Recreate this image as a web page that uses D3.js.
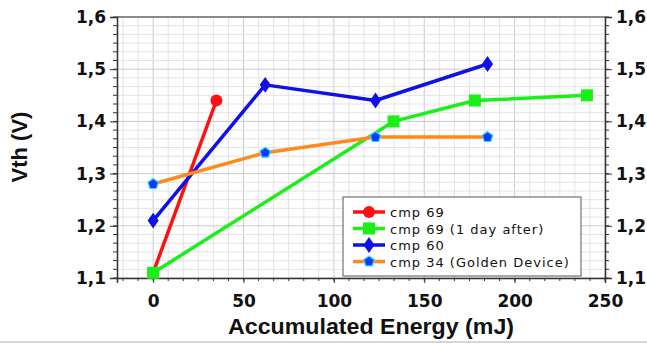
<!DOCTYPE html>
<html>
<head>
<meta charset="utf-8">
<script src="https://cdn.jsdelivr.net/npm/d3@7"></script>
<style>
  body { margin: 0; background: #fff; }
  text { font-family: "DejaVu Sans", sans-serif; }
</style>
</head>
<body>
<div id="chart"></div>
<script>
// Data
var cmp69X = [0, 35];
var cmp69Y = [1.11, 1.44];
var cmp69dayX = [0, 133, 178, 240];
var cmp69dayY = [1.11, 1.40, 1.44, 1.45];
var cmp60X = [0, 62, 123, 185];
var cmp60Y = [1.21, 1.47, 1.44, 1.51];
var cmp34X = [0, 62, 123, 185];
var cmp34Y = [1.28, 1.34, 1.37, 1.37];

var xTicks = [0, 50, 100, 150, 200, 250];
var yTicks = [1.1, 1.2, 1.3, 1.4, 1.5, 1.6];
var legendLabels = ["cmp 69", "cmp 69 (1 day after)", "cmp 60", "cmp 34 (Golden Device)"];

var svgWidth = 647;
var svgHeight = 345;

var margin = { top: 17, right: 42, bottom: 67, left: 117 };
var width = 605 - margin.left;
var height = 278 - margin.top;

var svg = d3.select("#chart")
  .append("svg")
  .attr("width", svgWidth)
  .attr("height", svgHeight);

var chartGroup = svg.append("g")
  .attr("transform", `translate(${margin.left}, ${margin.top})`);

var xScale = d3.scaleLinear().domain([-20, 250]).range([0, width]);
var yScale = d3.scaleLinear().domain([1.1, 1.6]).range([height, 0]);

// minor steps: six per major interval
var xMinor = d3.range(-3, 31).map(i => i * 50 / 6).filter(v => v >= -20 && v <= 250.01);
var yMinor = d3.range(0, 31).map(i => 1.1 + i * 0.1 / 6);

// grid
chartGroup.append("g").selectAll("line")
  .data(xMinor)
  .enter().append("line")
  .attr("x1", d => xScale(d)).attr("x2", d => xScale(d))
  .attr("y1", 0).attr("y2", height)
  .attr("stroke", d => Math.abs(d % 50) < 0.01 ? "#c9c9d2" : "#e3e3e8")
  .attr("stroke-width", 1);

chartGroup.append("g").selectAll("line")
  .data(yMinor)
  .enter().append("line")
  .attr("x1", 0).attr("x2", width)
  .attr("y1", d => yScale(d)).attr("y2", d => yScale(d))
  .attr("stroke", (d, i) => i % 6 === 0 ? "#c9c9d2" : "#e3e3e8")
  .attr("stroke-width", 1);

// frame: top border
chartGroup.append("line")
  .attr("x1", 0).attr("x2", width).attr("y1", 0).attr("y2", 0)
  .attr("stroke", "#8a8a8a").attr("stroke-width", 2);

// axes
var commaFmt = d => d3.format(".1f")(d).replace(".", ",");
var bottomAxis = d3.axisBottom(xScale).tickValues(xTicks).tickSize(5).tickFormat(d3.format("d"));
var leftAxis = d3.axisLeft(yScale).tickValues(yTicks).tickSize(7).tickFormat(commaFmt);
var rightAxis = d3.axisRight(yScale).tickValues(yTicks).tickSize(7).tickFormat(commaFmt);

var xAxis = chartGroup.append("g")
  .attr("transform", `translate(0, ${height})`)
  .call(bottomAxis);

var yAxis = chartGroup.append("g").call(leftAxis);
var yAxisR = chartGroup.append("g").attr("transform", `translate(${width}, 0)`).call(rightAxis);

// minor ticks
xAxis.selectAll(".minor").data(xMinor).enter().append("line")
  .attr("x1", d => xScale(d)).attr("x2", d => xScale(d))
  .attr("y1", 0).attr("y2", 3).attr("stroke", "#333");
yAxis.selectAll(".minor").data(yMinor).enter().append("line")
  .attr("y1", d => yScale(d)).attr("y2", d => yScale(d))
  .attr("x1", 0).attr("x2", -4).attr("stroke", "#333");
yAxisR.selectAll(".minor").data(yMinor).enter().append("line")
  .attr("y1", d => yScale(d)).attr("y2", d => yScale(d))
  .attr("x1", 0).attr("x2", 4).attr("stroke", "#333");

[xAxis, yAxis, yAxisR].forEach(function(ax) {
  ax.select(".domain").attr("stroke", "#333").attr("stroke-width", 1.5);
  ax.selectAll(".tick line").attr("stroke", "#333");
  ax.selectAll("text")
    .attr("fill", "#111")
    .style("font-size", "17px")
    .style("font-weight", "bold")
    .style("font-family", "'DejaVu Sans', sans-serif");
});
xAxis.selectAll("text").attr("y", 17).attr("dy", "0.71em");
yAxis.selectAll("text").attr("x", -11);
yAxisR.selectAll("text").attr("x", 11);

// axis titles
svg.append("text")
  .attr("x", 371)
  .attr("y", 334)
  .attr("text-anchor", "middle")
  .attr("textLength", 286)
  .attr("lengthAdjust", "spacingAndGlyphs")
  .style("font-family", "'Liberation Sans', Arial, sans-serif")
  .style("font-weight", "bold")
  .style("font-size", "22px")
  .attr("fill", "#111")
  .text("Accumulated Energy (mJ)");

svg.append("text")
  .attr("transform", "translate(27, 147) rotate(-90)")
  .attr("text-anchor", "middle")
  .style("font-family", "'Liberation Sans', Arial, sans-serif")
  .style("font-weight", "bold")
  .style("font-size", "22px")
  .attr("fill", "#111")
  .text("Vth (V)");

// page bottom rule
svg.append("line")
  .attr("x1", 0).attr("x2", svgWidth).attr("y1", 342).attr("y2", 342)
  .attr("stroke", "#c8c8c8").attr("stroke-width", 1.5);

// series
var series = [
  { name: legendLabels[0], xs: cmp69X, ys: cmp69Y, color: "#ff1010", marker: "circle" },
  { name: legendLabels[1], xs: cmp69dayX, ys: cmp69dayY, color: "#18f018", marker: "square" },
  { name: legendLabels[2], xs: cmp60X, ys: cmp60Y, color: "#1010e8", marker: "diamond" },
  { name: legendLabels[3], xs: cmp34X, ys: cmp34Y, color: "#ff8a1c", marker: "pentagon" }
];

var line = d3.line().x(d => xScale(d[0])).y(d => yScale(d[1]));

function drawMarker(g, type, x, y, color) {
  if (type === "circle") {
    g.append("circle").attr("cx", x).attr("cy", y).attr("r", 6).attr("fill", color);
  } else if (type === "square") {
    g.append("rect").attr("x", x - 6).attr("y", y - 6).attr("width", 12).attr("height", 12).attr("fill", color);
  } else if (type === "diamond") {
    g.append("path")
      .attr("d", d3.symbol().type(d3.symbolDiamond).size(80)())
      .attr("transform", `translate(${x}, ${y}) scale(1.15, 0.95)`)
      .attr("fill", color);
  } else {
    var pts = d3.range(5).map(i => {
      var a = -Math.PI / 2 + i * 2 * Math.PI / 5;
      return [x + 5.5 * Math.cos(a), y + 5.5 * Math.sin(a)];
    });
    g.append("polygon")
      .attr("points", pts.map(p => p.join(",")).join(" "))
      .attr("fill", "#0a3cff")
      .attr("stroke", "#35d8ff")
      .attr("stroke-width", 1.2);
  }
}

series.forEach(function(s) {
  var pts = s.xs.map((x, i) => [x, s.ys[i]]);
  chartGroup.append("path")
    .datum(pts)
    .attr("d", line)
    .attr("fill", "none")
    .attr("stroke", s.color)
    .attr("stroke-width", 3.5)
    .attr("stroke-linejoin", "round");
});
series.forEach(function(s) {
  var g = chartGroup.append("g");
  s.xs.forEach((x, i) => drawMarker(g, s.marker, xScale(x), yScale(s.ys[i]), s.color));
});

// legend
var legend = svg.append("g").attr("transform", "translate(343, 197)");
legend.append("rect")
  .attr("width", 238).attr("height", 79)
  .attr("fill", "#fff").attr("stroke", "#555").attr("stroke-width", 1);

series.forEach(function(s, i) {
  var ly = 15 + i * 16.5;
  legend.append("line")
    .attr("x1", 10).attr("x2", 42).attr("y1", ly).attr("y2", ly)
    .attr("stroke", s.color).attr("stroke-width", 3.5);
  drawMarker(legend, s.marker, 26, ly, s.color);
  legend.append("text")
    .attr("x", 47).attr("y", ly + 5)
    .style("font-size", "13px")
    .style("letter-spacing", "1px")
    .attr("fill", "#111")
    .text(s.name);
});
</script>
</body>
</html>
